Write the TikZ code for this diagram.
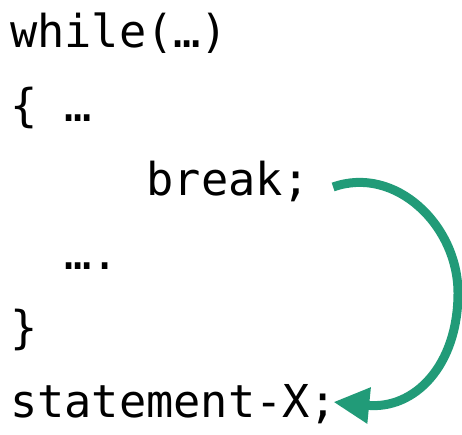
\documentclass[tikz,border=0pt]{standalone}
\usepackage{fontspec}
\newfontfamily\codefont{DejaVu Sans Mono}
\usetikzlibrary{arrows.meta,calc}
\definecolor{arrowgreen}{RGB}{33,155,120}
\begin{document}
\begin{tikzpicture}[x=1pt,y=-1pt,
  code/.style={anchor=base west,inner sep=0pt,outer sep=0pt,font=\codefont\fontsize{45.3}{54}\selectfont},
  jump/.style={draw=arrowgreen,line width=9pt,-{Triangle[length=36pt,width=34pt]}}]
\useasboundingbox (0,0) rectangle (462,434);
\node[code] (l1) at (10,47) {while(…)};
\node[code] (l2) at (10,121) {\{ …};
\node[code] (l3) at (146.5,195) {break;};
\node[code] (l4) at (64.6,269) {….};
\node[code] (l5) at (10,343) {\}};
\node[code] (l6) at (10,417) {statement-X;};
\draw[jump] ($(l3.base east)+(23,-8)$) .. controls (395,165) and (458,225) .. (458,293)
  .. controls (458,365) and (415,410) .. ($(l6.base east)+(-4,-15)$);
\end{tikzpicture}
\end{document}
